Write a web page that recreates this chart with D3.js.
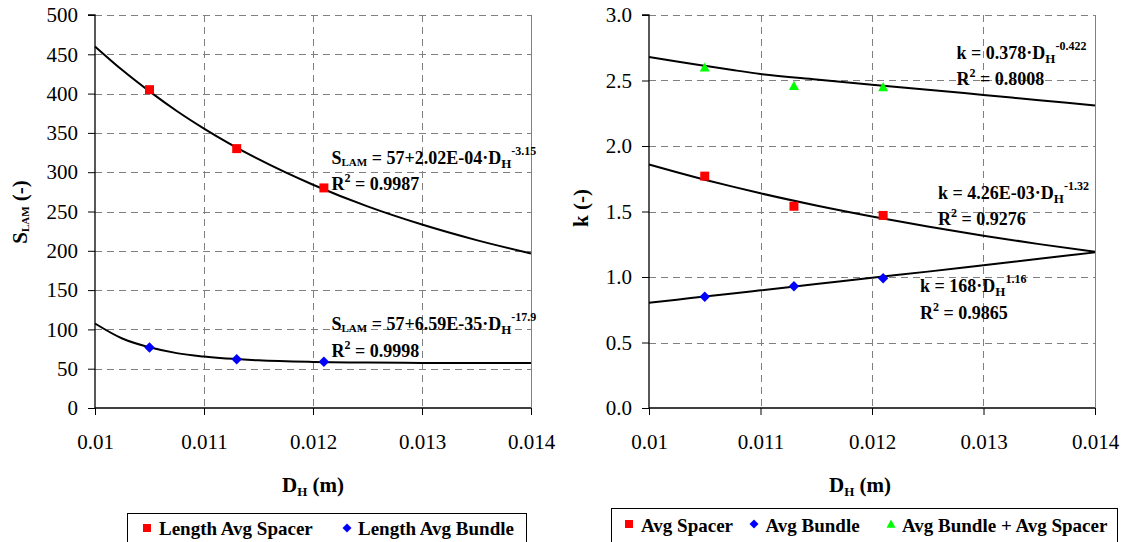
<!DOCTYPE html>
<html><head><meta charset="utf-8">
<script src="https://cdn.jsdelivr.net/npm/d3@7"></script>
<style>body{margin:0;background:#fff}svg{display:block}
text{font-family:"Liberation Serif","Tinos","Times New Roman","DejaVu Serif",serif}</style>
</head><body><svg id="c" width="1123" height="542"></svg>
<script>
// ---------- data ----------
const dhPoints = [0.0105, 0.0113, 0.0121];
const sLamSpacer = [405, 330, 280];
const sLamBundle = [77, 62, 59];
const kSpacer = [1.77, 1.54, 1.47];
const kBundle = [0.85, 0.93, 0.99];
const kBoth = [2.60, 2.46, 2.45];
// trend lines
const dhFit = [0.01, 0.01025, 0.0105, 0.01075, 0.011, 0.0115, 0.012, 0.0125, 0.013, 0.0135, 0.014];
const sLamSpacerFit = [460, 429.9, 402.8, 377.9, 355.5, 316.5, 284, 256.5, 233.4, 213.6, 196.6];
const sLamBundleFit = [107.5, 88.4, 77.2, 69.8, 65.4, 60.6, 58.6, 57.8, 57.3, 57.15, 57.1];
const kSpacerFit = [1.859, 1.799, 1.743, 1.690, 1.639, 1.546, 1.462, 1.385, 1.315, 1.251, 1.192];
const kBundleFit = [0.804, 0.827, 0.851, 0.874, 0.898, 0.946, 0.994, 1.041, 1.090, 1.139, 1.188];
const kBothFit = [2.68, 2.645, 2.612, 2.58, 2.55, 2.507, 2.467, 2.43, 2.39, 2.35, 2.31];
const xTicks = [0.01, 0.011, 0.012, 0.013, 0.014];
const sLamTicks = [0, 50, 100, 150, 200, 250, 300, 350, 400, 450, 500];
const kTicks = [0, 0.5, 1.0, 1.5, 2.0, 2.5, 3.0];

const FONT = '"Liberation Serif","Tinos","Times New Roman","DejaVu Serif",serif';
const RED = "#ff0000", BLUE = "#0000ff", GREEN = "#00ff00";
const svg = d3.select("#c");
svg.append("rect").attr("width", 1123).attr("height", 542).attr("fill", "#fff");

function marker(g, type, cx, cy, s, color) {
  let p;
  if (type === "square") p = `M${cx - s/2},${cy - s/2}h${s}v${s}h${-s}Z`;
  else if (type === "diamond") p = `M${cx},${cy - s/2}L${cx + s/2},${cy}L${cx},${cy + s/2}L${cx - s/2},${cy}Z`;
  else p = `M${cx},${cy - s*0.5}L${cx + s/2},${cy + s*0.42}L${cx - s/2},${cy + s*0.42}Z`;
  g.append("path").attr("d", p).attr("fill", color);
}

function rich(g, x, y, segs, size, opts = {}) {
  const t = g.append("text").attr("x", x).attr("y", y)
    .style("font-family", FONT).attr("font-weight", opts.weight || "bold")
    .attr("font-size", size).attr("text-anchor", opts.anchor || "start").attr("fill", "#000");
  if (opts.transform) t.attr("transform", opts.transform);
  let cur = 0;
  segs.forEach(s => {
    const [txt, kind] = typeof s === "string" ? [s, "n"] : s;
    let off = 0, fs = size;
    if (kind === "lam") { off = 2; fs = 11; }
    else if (kind === "sub") { off = 4; fs = 13; }
    else if (kind === "sup") { off = -9; fs = 12; }
    else if (kind === "sq") { off = -8; fs = 12; }
    t.append("tspan").attr("dy", off - cur).attr("font-size", fs).text(txt);
    cur = off;
  });
  return t;
}

function chart(cfg) {
  const g = svg.append("g");
  const x = d3.scaleLinear().domain([0.01, 0.014]).range([cfg.x0, cfg.x1]);
  const y = d3.scaleLinear().domain(cfg.yDomain).range([408, 15]);
  const grid = g.append("g").attr("stroke", "#808080").attr("stroke-width", 1).attr("fill", "none");
  cfg.yTicks.filter(v => v !== cfg.yDomain[0]).forEach(v => {
    grid.append("line").attr("x1", cfg.x0).attr("x2", cfg.x1).attr("y1", Math.round(y(v)) + 0.5).attr("y2", Math.round(y(v)) + 0.5)
      .attr("stroke-dasharray", "7,5");
  });
  xTicks.filter(v => v !== 0.01 && v !== 0.014).forEach(v => {
    grid.append("line").attr("x1", Math.round(x(v)) + 0.5).attr("x2", Math.round(x(v)) + 0.5).attr("y1", 15).attr("y2", 408)
      .attr("stroke-dasharray", "7,5");
  });
  grid.append("line").attr("x1", Math.round(cfg.x1) + 0.5).attr("x2", Math.round(cfg.x1) + 0.5).attr("y1", 15).attr("y2", 408);

  const xa = g.append("g").attr("transform", "translate(0,408)")
    .call(d3.axisBottom(x).tickValues(xTicks).tickSize(7).tickPadding(19).tickFormat(d => String(+d.toFixed(3))));
  const ya = g.append("g").attr("transform", `translate(${cfg.x0},0)`)
    .call(d3.axisLeft(y).tickValues(cfg.yTicks).tickSize(7).tickPadding(10).tickFormat(cfg.yFmt));
  [xa, ya].forEach(a => {
    a.attr("font-family", null);
    a.select(".domain").attr("stroke", "#000").attr("stroke-width", 1.3);
    a.selectAll(".tick line").attr("stroke", "#000").attr("stroke-width", 1);
    a.selectAll("text").style("font-family", FONT).attr("font-size", 21).attr("fill", "#000");
  });
  ya.select(".domain").attr("d", `M-7,${y(cfg.yDomain[1])}H0V408`);
  xa.select(".domain").attr("d", `M${cfg.x0},0H${cfg.x1}`);

  const line = d3.line().x(d => x(d[0])).y(d => y(d[1])).curve(d3.curveMonotoneX);
  cfg.fits.forEach(f => {
    g.append("path").datum(dhFit.map((d, i) => [d, f[i]])).attr("d", line)
      .attr("fill", "none").attr("stroke", "#000").attr("stroke-width", 2);
  });
  cfg.series.forEach(s => {
    dhPoints.forEach((d, i) => marker(g, s.type, x(d), y(s.values[i]), s.size, s.color));
  });
  return g;
}

// ---------- left chart ----------
const gl = chart({
  x0: 95, x1: 531, yDomain: [0, 500], yTicks: sLamTicks, yFmt: d => d,
  fits: [sLamSpacerFit, sLamBundleFit],
  series: [
    { values: sLamSpacer, type: "square", color: RED, size: 9 },
    { values: sLamBundle, type: "diamond", color: BLUE, size: 10.5 }
  ]
});
rich(gl, 331.5, 163.5, ["S", ["LAM", "lam"], " = 57+2.02E-04·D", ["H", "sub"], ["-3.15", "sup"]], 18);
rich(gl, 331.5, 190, ["R", ["2", "sq"], " = 0.9987"], 18);
rich(gl, 331.5, 330, ["S", ["LAM", "lam"], " = 57+6.59E-35·D", ["H", "sub"], ["-17.9", "sup"]], 18);
rich(gl, 331.5, 356.5, ["R", ["2", "sq"], " = 0.9998"], 18);
rich(gl, 313, 491.5, ["D", ["H", "sub"], " (m)"], 21, { anchor: "middle" });
rich(gl, 0, 0, ["S", ["LAM", "lam"], " (-)"], 21, { anchor: "middle", transform: "translate(27,212) rotate(-90)" });
gl.append("rect").attr("x", 127.5).attr("y", 513.5).attr("width", 399).attr("height", 40)
  .attr("fill", "#fff").attr("stroke", "#000").attr("stroke-width", 1);
marker(gl, "square", 147, 528, 8, RED);
rich(gl, 159, 535, ["Length Avg Spacer"], 19);
marker(gl, "diamond", 347, 528, 9, BLUE);
rich(gl, 358, 535, ["Length Avg Bundle"], 19);

// ---------- right chart ----------
const gr = chart({
  x0: 649, x1: 1095, yDomain: [0, 3], yTicks: kTicks, yFmt: d3.format(".1f"),
  fits: [kBothFit, kSpacerFit, kBundleFit],
  series: [
    { values: kBoth, type: "triangle", color: GREEN, size: 10 },
    { values: kSpacer, type: "square", color: RED, size: 9 },
    { values: kBundle, type: "diamond", color: BLUE, size: 10.5 }
  ]
});
rich(gr, 956.5, 58.5, ["k = 0.378·D", ["H", "sub"], ["-0.422", "sup"]], 18);
rich(gr, 956.5, 85, ["R", ["2", "sq"], " = 0.8008"], 18);
rich(gr, 938, 198.5, ["k = 4.26E-03·D", ["H", "sub"], ["-1.32", "sup"]], 18);
rich(gr, 938, 225, ["R", ["2", "sq"], " = 0.9276"], 18);
rich(gr, 920, 291.5, ["k = 168·D", ["H", "sub"], ["1.16", "sup"]], 18);
rich(gr, 920, 318.5, ["R", ["2", "sq"], " = 0.9865"], 18);
rich(gr, 860, 491.5, ["D", ["H", "sub"], " (m)"], 21, { anchor: "middle" });
rich(gr, 0, 0, ["k (-)"], 21, { anchor: "middle", transform: "translate(588,208) rotate(-90)" });
gr.append("rect").attr("x", 611.5).attr("y", 508.5).attr("width", 506).attr("height", 45)
  .attr("fill", "#fff").attr("stroke", "#000").attr("stroke-width", 1);
marker(gr, "square", 629, 524, 8, RED);
rich(gr, 641, 531.5, ["Avg Spacer"], 19);
marker(gr, "diamond", 754, 524, 9, BLUE);
rich(gr, 765.5, 531.5, ["Avg Bundle"], 19);
marker(gr, "triangle", 891, 524, 9, GREEN);
rich(gr, 902, 531.5, ["Avg Bundle + Avg Spacer"], 19);
</script></body></html>
